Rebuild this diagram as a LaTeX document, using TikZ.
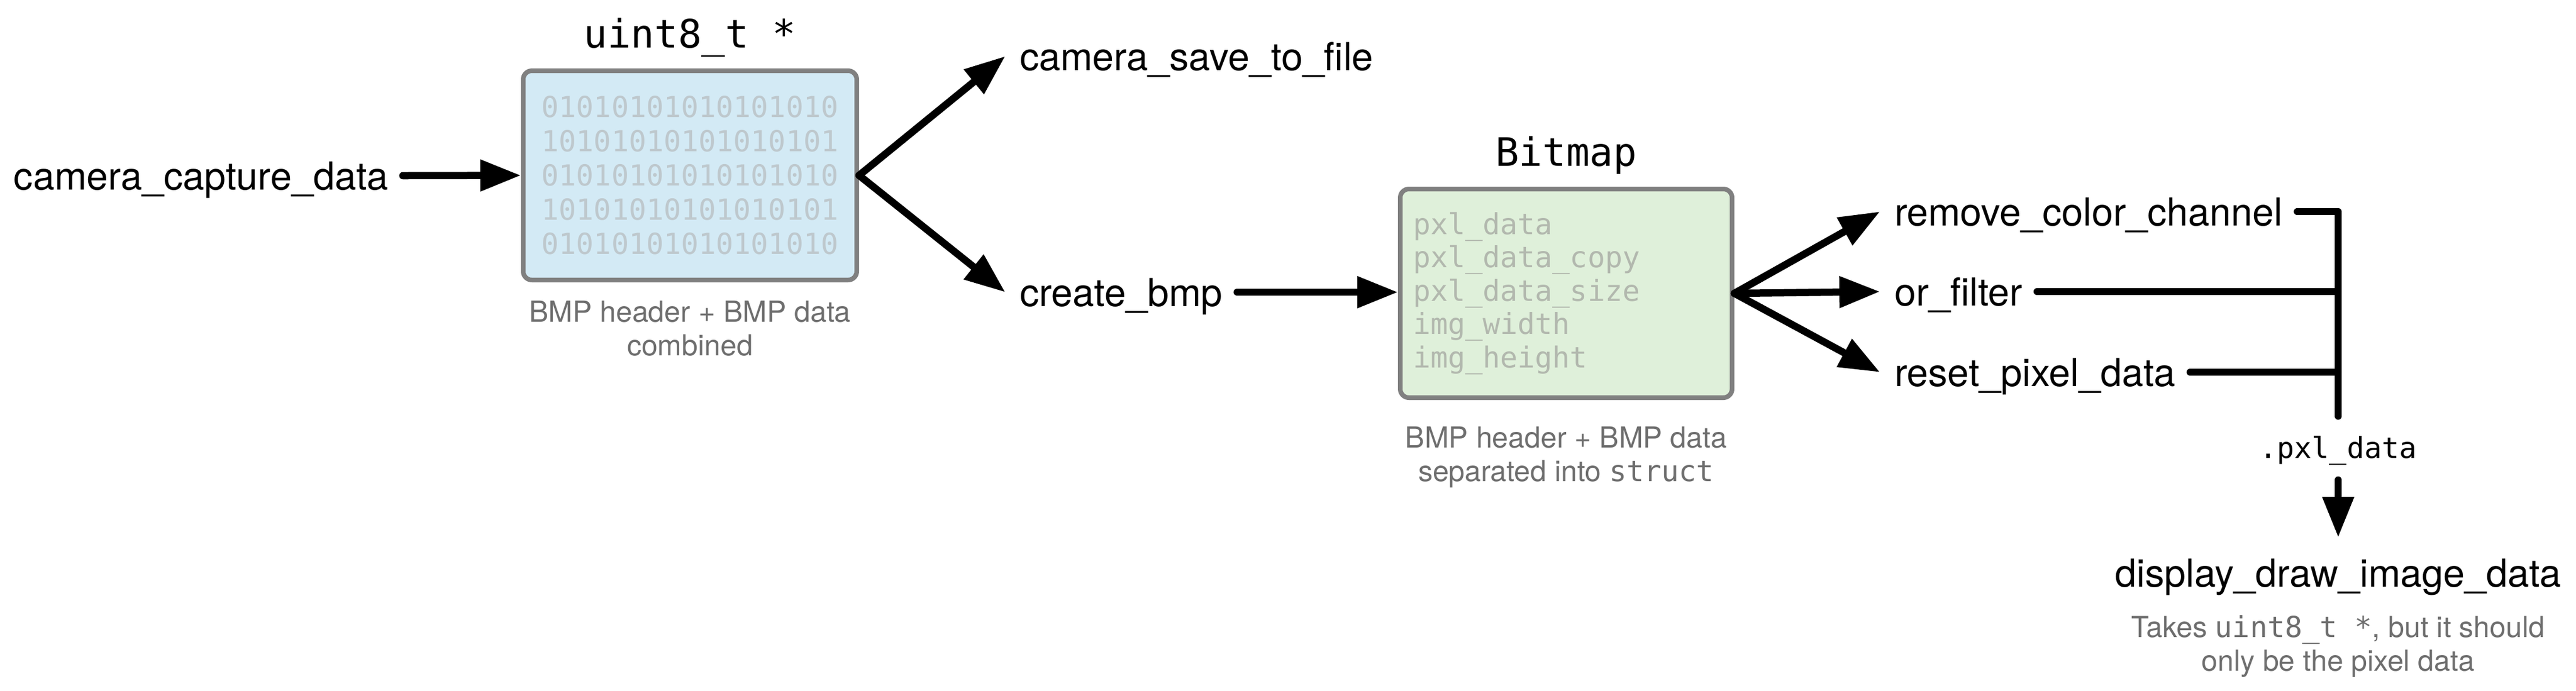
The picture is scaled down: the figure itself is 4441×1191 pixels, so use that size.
\documentclass[tikz,border=0pt]{standalone}
\usepackage{fontspec}
\setmainfont{TeX Gyre Heros}
\setmonofont{DejaVu Sans Mono}
\usetikzlibrary{arrows.meta,positioning}
\definecolor{bitsfill}{RGB}{211,234,245}
\definecolor{bmpfill}{RGB}{223,240,218}
\definecolor{boxline}{RGB}{128,128,128}
\definecolor{bitsgray}{RGB}{190,200,205}
\definecolor{fieldgray}{RGB}{178,184,174}
\definecolor{notegray}{RGB}{110,110,110}

\begin{document}
\begin{tikzpicture}[x=0.2pt,y=0.2pt,yscale=-1,xscale=1,
  fn/.style={font=\fontsize{13.3}{16}\selectfont, text height=9.6pt, text depth=0pt, inner xsep=4.8pt, inner ysep=0pt},
  mem/.style={draw=boxline, line width=1.6pt, rounded corners=3pt, minimum width=115pt, minimum height=72.2pt},
  kind/.style={font=\ttfamily\fontsize{13.5}{16}\selectfont, text depth=0pt, inner sep=0pt},
  note/.style={font=\fontsize{10}{11.6}\selectfont, text=notegray, align=center, inner sep=0pt},
  flow/.style={line width=2.5pt, line cap=round, -{Triangle[length=14pt,width=10.4pt]}},
  merge/.style={line width=2.4pt, line cap=round, line join=round}]
\path[use as bounding box] (0,0) rectangle (4441,1191);

%Shape: Rectangle [uint8_t buffer]
\node[mem, fill=bitsfill, text=bitsgray, text width=105.6pt, align=center, font=\ttfamily\fontsize{10}{11.8}\selectfont] (bits) at (1189.5,302.5) {01010101010101010\\10101010101010101\\01010101010101010\\10101010101010101\\01010101010101010};
%Shape: Rectangle [Bitmap struct]
\node[mem, fill=bmpfill, text=fieldgray, text width=105.6pt, align=left, minimum width=114.4pt, minimum height=72pt, font=\ttfamily\fontsize{10}{11.5}\selectfont] (bmp) at (2700,506) {pxl\_data\\pxl\_data\_copy\\pxl\_data\_size\\img\_width\\img\_height};

% Text Node
\node[kind, above=7pt of bits] (bitstitle) {uint8\_t *};
% Text Node
\node[kind, above=7pt of bmp] (bmptitle) {Bitmap};
% Text Node
\node[note, below=6.2pt of bits] (bitsnote) {BMP header + BMP data\\combined};
% Text Node
\node[note, below=9pt of bmp] (bmpnote) {BMP header + BMP data\\separated into \texttt{struct}};

% Text Node
\node[fn, anchor=west] (capture) at (-1,303) {camera\_capture\_data};
% Text Node
\node[fn, anchor=west] (save) at (1733,97) {camera\_save\_to\_file};
% Text Node
\node[fn, anchor=west] (create) at (1733,504) {create\_bmp};
% Text Node
\node[fn, anchor=west] (removech) at (3241,365) {remove\_color\_channel};
% Text Node
\node[fn, anchor=west] (orfilter) at (3241,503) {or\_filter};
% Text Node
\node[fn, anchor=west] (resetpx) at (3241,642) {reset\_pixel\_data};
% Text Node
\node[font=\ttfamily\fontsize{10}{12}\selectfont, inner sep=0pt, minimum height=20pt] (pxl) at (4031,777) {.pxl\_data};
% Text Node
\node[fn] (display) at (4031,988) {display\_draw\_image\_data};
% Text Node
\node[note, below=9.4pt of display] (displaynote) {Takes \texttt{uint8\_t *}, but it should\\only be the pixel data};

%Straight Lines
\draw[flow] (capture.east) -- (bits.west);
\draw[flow] (bits.east) -- (save.west);
\draw[flow] (bits.east) -- (create.west);
\draw[flow] (create.east) -- (create.east -| bmp.west);
%Straight Lines
\draw[flow] (bmp.east) -- (removech.west);
\draw[flow] (bmp.east) -- (orfilter.west);
\draw[flow] (bmp.east) -- (resetpx.west);
%Straight Lines
\draw[merge, shorten >=1.6pt] (removech.east) -| (pxl.north);
\draw[merge] (orfilter.east) -- (orfilter.east -| pxl.north);
\draw[merge] (resetpx.east) -- (resetpx.east -| pxl.north);
\draw[flow, shorten >=7.2pt] (pxl.south) -- (display.north);
\end{tikzpicture}
\end{document}
